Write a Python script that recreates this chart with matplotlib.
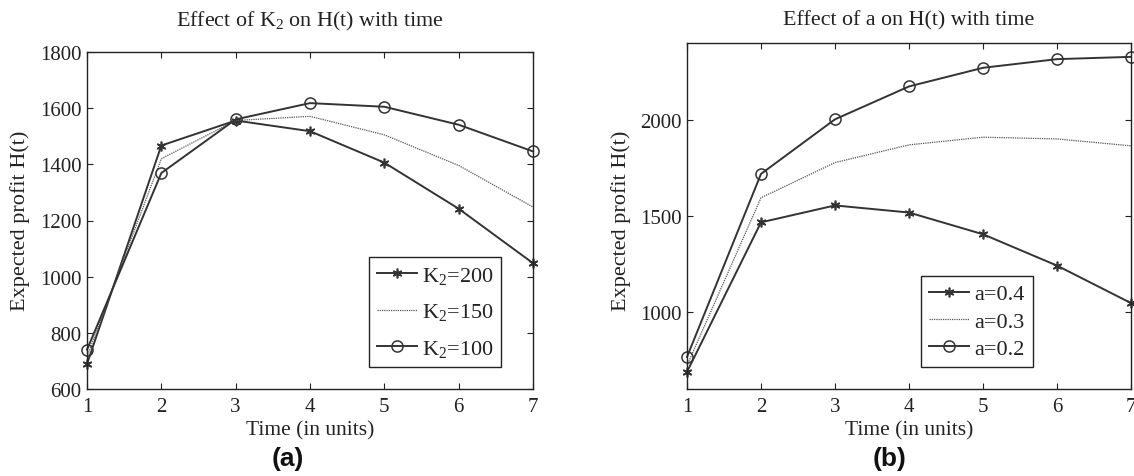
import matplotlib
matplotlib.use("Agg")
import matplotlib.pyplot as plt

# -------------------------------
# Data
# -------------------------------
time_units = [1, 2, 3, 4, 5, 6, 7]

# panel (a): effect of K2
k2_200 = [689, 1467, 1556, 1518, 1406, 1242, 1048]
k2_150 = [715, 1420, 1556, 1571, 1505, 1396, 1248]
k2_100 = [740, 1369, 1560, 1618, 1605, 1541, 1446]
k2_labels = ["K$_2$=200", "K$_2$=150", "K$_2$=100"]

# panel (b): effect of a
a_04 = [689, 1467, 1555, 1518, 1405, 1242, 1047]
a_03 = [722, 1595, 1778, 1870, 1910, 1901, 1865]
a_02 = [767, 1719, 2003, 2174, 2271, 2316, 2328]
a_labels = ["a=0.4", "a=0.3", "a=0.2"]

yticks_a = [600, 800, 1000, 1200, 1400, 1600, 1800]
yticks_b = [1000, 1500, 2000]

plt.rcParams["font.family"] = ["Liberation Serif", "DejaVu Serif"]
plt.rcParams["mathtext.fontset"] = "custom"
plt.rcParams["mathtext.rm"] = "Liberation Serif"
plt.rcParams["mathtext.it"] = "Liberation Serif:italic"

TXT = "#222222"
LINE = "#333333"
FS_TICK = 15
FS_LABEL = 15.5
FS_LEG = 16
ASTERISK = (6, 2, 0)  # matlab style '*'


def style_axes(ax, ylim, yticks):
    ax.set_xlim(1, 7)
    ax.set_ylim(*ylim)
    ax.set_xticks(time_units)
    ax.set_yticks(yticks)
    ax.tick_params(direction="in", length=4, width=0.8, top=True, right=True,
                   labelsize=FS_TICK, colors=TXT, pad=4)
    ax.tick_params(axis="x", pad=6)
    for s in ax.spines.values():
        s.set_linewidth(1.0)
        s.set_color(TXT)


def draw_series(ax, s1, s2, s3, labels):
    ax.plot(time_units, s1, color=LINE, lw=1.4, marker=ASTERISK, ms=7,
            mec=LINE, mew=1.2, label=labels[0], clip_on=False)
    ax.plot(time_units, s2, color="#555555", lw=0.9, ls=(0, (1, 0.8)),
            label=labels[1], clip_on=False)
    ax.plot(time_units, s3, color=LINE, lw=1.4, marker="o", ms=8,
            mfc="none", mec=LINE, mew=1.1, label=labels[2], clip_on=False)


def add_legend(ax, box, spacing):
    leg = ax.legend(loc="center", bbox_to_anchor=box, mode="expand",
                    fontsize=FS_LEG, handlelength=1.8, handletextpad=0.25,
                    labelspacing=spacing, borderpad=0.35, borderaxespad=0,
                    fancybox=False, edgecolor=TXT, framealpha=1)
    leg.get_frame().set_linewidth(1.0)
    for t in leg.get_texts():
        t.set_color(TXT)
    return leg


fig = plt.figure(figsize=(11.34, 4.77), dpi=100)

W, H = 1134.0, 477.0
ax_a = fig.add_axes([87 / W, 1 - 390 / H, 446 / W, 337 / H])
ax_b = fig.add_axes([687 / W, 1 - 390 / H, 444 / W, 346 / H])

draw_series(ax_a, k2_200, k2_150, k2_100, k2_labels)
style_axes(ax_a, (600, 1800), yticks_a)
add_legend(ax_a, (0.632, 0.053, 0.296, 0.351), 0.7)

draw_series(ax_b, a_04, a_03, a_02, a_labels)
style_axes(ax_b, (600, 2400), yticks_b)
add_legend(ax_b, (0.527, 0.064, 0.252, 0.263), 0.3)

# titles, axis labels, panel letters
fig.text(310 / W, 1 - 21 / H, "Effect of K$_2$ on H(t) with time",
         ha="center", va="center", fontsize=15.8, color=TXT)
fig.text(909 / W, 1 - 21 / H, "Effect of a on H(t) with time",
         ha="center", va="center", fontsize=15.8, color=TXT)

for xc in (310 / W, 909 / W):
    fig.text(xc, 1 - 431 / H, "Time (in units)", ha="center", va="center",
             fontsize=FS_LABEL, color=TXT)

fig.text(20 / W, 1 - 221 / H, "Expected profit H(t)", ha="center", va="center",
         rotation=90, fontsize=16, color=TXT)
fig.text(621 / W, 1 - 221 / H, "Expected profit H(t)", ha="center", va="center",
         rotation=90, fontsize=16, color=TXT)

fig.text(288 / W, 1 - 459 / H, "(a)", ha="center", va="center", fontsize=19,
         fontweight="bold", family=["Liberation Sans", "DejaVu Sans"], color="#111111")
fig.text(890 / W, 1 - 459 / H, "(b)", ha="center", va="center", fontsize=19,
         fontweight="bold", family=["Liberation Sans", "DejaVu Sans"], color="#111111")

fig.savefig("out.png", dpi=100, facecolor="white")
